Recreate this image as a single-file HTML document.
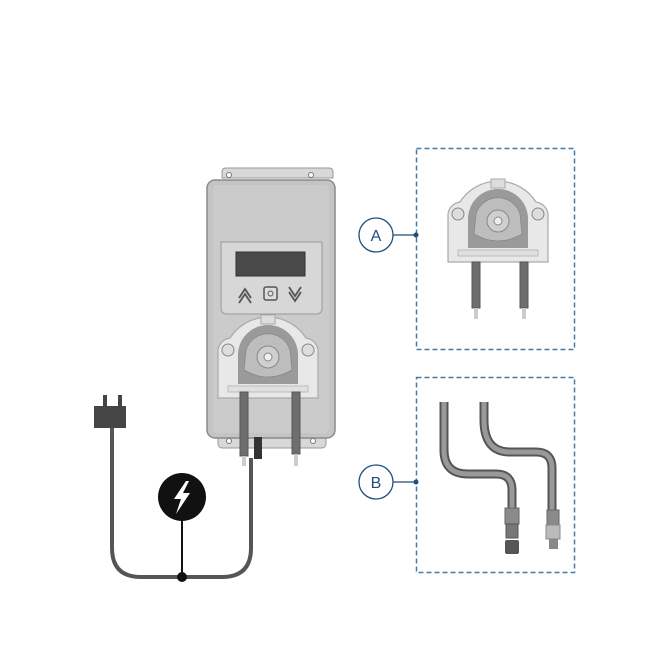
<!DOCTYPE html>
<html><head><style>html,body{margin:0;padding:0;background:#fff}svg{display:block}</style></head><body>
<svg width="650" height="650" viewBox="0 0 650 650" xmlns="http://www.w3.org/2000/svg" font-family="Liberation Sans, sans-serif">
<defs>
<g id="pump">
  <path d="M-50,12 L-50,-10 A14,14 0 0 1 -38,-22 A45,45 0 0 1 38,-22 A14,14 0 0 1 50,-10 L50,12 L50,38 L-50,38 Z" fill="#e8e8e8" stroke="#aaa" stroke-width="1.2"/>
  <rect x="-7" y="-45" width="14" height="9" fill="#ddd" stroke="#aaa"/>
  <path d="M-30,-5 A30,30 0 0 1 30,-5 L30,24 L-30,24 Z" fill="#9a9a9a"/>
  <path d="M-22,-10 A23,23 0 0 1 22,-10 L24,10 Q0,24 -24,10 Z" fill="#bdbdbd" stroke="#888" stroke-width="0.8"/>
  <circle cx="0" cy="-3" r="11" fill="#cfcfcf" stroke="#888"/>
  <circle cx="0" cy="-3" r="4" fill="#eee" stroke="#888"/>
  <circle cx="-40" cy="-10" r="6" fill="#ddd" stroke="#888"/>
  <circle cx="40" cy="-10" r="6" fill="#ddd" stroke="#888"/>
  <rect x="-40" y="26" width="80" height="6" fill="#e0e0e0" stroke="#bbb"/>
</g>
</defs>

<!-- main unit -->
<path d="M222,178 L222,172 Q222,168 226,168 L329,168 Q333,168 333,172 L333,178 Z" fill="#d8d8d8" stroke="#999"/>
<circle cx="229" cy="175" r="2.5" fill="#fff" stroke="#777"/>
<circle cx="311" cy="175" r="2.5" fill="#fff" stroke="#777"/>
<rect x="218" y="430" width="108" height="18" rx="4" fill="#d8d8d8" stroke="#999"/>
<circle cx="229" cy="441" r="2.5" fill="#fff" stroke="#777"/>
<circle cx="313" cy="441" r="2.5" fill="#fff" stroke="#777"/>
<rect x="207" y="180" width="128" height="258" rx="8" fill="#c4c4c4" stroke="#8a8a8a" stroke-width="1.5"/>
<rect x="213" y="185" width="116" height="248" rx="4" fill="#cbcbcb"/>
<path d="M221,242 L322,242 L322,308 Q322,314 316,314 L227,314 Q221,314 221,308 Z" fill="#d7d7d7" stroke="#999"/>
<rect x="236" y="252" width="69" height="24" fill="#4a4a4a" stroke="#333"/>
<path d="M239,298 L245,289 L251,298 M239,303 L245,294 L251,303" fill="none" stroke="#555" stroke-width="1.8"/>
<rect x="264" y="287" width="13" height="13" rx="2" fill="#ddd" stroke="#555" stroke-width="1.5"/>
<circle cx="270.5" cy="293.5" r="2.5" fill="none" stroke="#555"/>
<path d="M289,287 L295,296 L301,287 M289,292 L295,301 L301,292" fill="none" stroke="#555" stroke-width="1.8"/>
<use href="#pump" x="268" y="360"/>
<rect x="240" y="392" width="8" height="64" fill="#6e6e6e" stroke="#555"/>
<rect x="292" y="392" width="8" height="62" fill="#6e6e6e" stroke="#555"/>
<rect x="242" y="456" width="4" height="10" fill="#ccc"/>
<rect x="294" y="454" width="4" height="12" fill="#ccc"/>
<rect x="254" y="437" width="8" height="22" fill="#333"/>

<!-- cord -->
<path d="M112,428 L112,548 Q112,577 141,577 L222,577 Q251,577 251,548 L251,458" fill="none" stroke="#555" stroke-width="4"/>
<rect x="103" y="395" width="4" height="12" fill="#444"/>
<rect x="118" y="395" width="4" height="12" fill="#444"/>
<rect x="94" y="406" width="32" height="22" fill="#454545"/>
<line x1="182" y1="497" x2="182" y2="577" stroke="#111" stroke-width="2"/>
<circle cx="182" cy="577" r="5" fill="#111"/>
<circle cx="182" cy="497" r="24" fill="#111"/>
<path d="M186,481 L174,499 L181,499 L176,514 L190,493 L183,493 L189,481 Z" fill="#fff"/>

<!-- box A -->
<rect x="416.5" y="148.5" width="158" height="201" fill="none" stroke="#4a7aa0" stroke-width="1.5" stroke-dasharray="5,3"/>
<line x1="393" y1="235" x2="416" y2="235" stroke="#1f4e79" stroke-width="1.3"/>
<circle cx="416" cy="235" r="2.5" fill="#1f4e79"/>
<circle cx="376" cy="235" r="17" fill="#fff" stroke="#1f4e79" stroke-width="1.3"/>
<text x="376" y="241" text-anchor="middle" font-size="16" fill="#1f4e79">A</text>
<use href="#pump" x="498" y="224"/>
<rect x="472" y="262" width="8" height="46" fill="#6e6e6e" stroke="#555"/>
<rect x="520" y="262" width="8" height="46" fill="#6e6e6e" stroke="#555"/>
<rect x="474" y="308" width="4" height="11" fill="#ccc"/>
<rect x="522" y="308" width="4" height="11" fill="#ccc"/>

<!-- box B -->
<rect x="416.5" y="377.5" width="158" height="195" fill="none" stroke="#4a7aa0" stroke-width="1.5" stroke-dasharray="5,3"/>
<line x1="393" y1="482" x2="416" y2="482" stroke="#1f4e79" stroke-width="1.3"/>
<circle cx="416" cy="482" r="2.5" fill="#1f4e79"/>
<circle cx="376" cy="482" r="17" fill="#fff" stroke="#1f4e79" stroke-width="1.3"/>
<text x="376" y="488" text-anchor="middle" font-size="16" fill="#1f4e79">B</text>
<g fill="none" stroke-linecap="butt">
<path d="M444,402 L444,450 Q444,474 468,474 L496,474 Q512,474 512,490 L512,510" stroke="#555" stroke-width="9"/>
<path d="M444,402 L444,450 Q444,474 468,474 L496,474 Q512,474 512,490 L512,510" stroke="#999" stroke-width="5"/>
<path d="M484,402 L484,420 Q484,452 510,452 L536,452 Q552,452 552,468 L552,510" stroke="#555" stroke-width="9"/>
<path d="M484,402 L484,420 Q484,452 510,452 L536,452 Q552,452 552,468 L552,510" stroke="#999" stroke-width="5"/>
</g>
<rect x="505" y="508" width="14" height="16" fill="#8a8a8a" stroke="#666"/>
<rect x="506" y="524" width="12" height="14" fill="#777" stroke="#555"/>
<rect x="505" y="540" width="14" height="14" rx="2" fill="#555"/>
<rect x="547" y="510" width="12" height="15" fill="#8a8a8a" stroke="#666"/>
<rect x="546" y="525" width="14" height="14" fill="#bbb" stroke="#888"/>
<rect x="549" y="539" width="9" height="10" fill="#888"/>
</svg>
</body></html>
